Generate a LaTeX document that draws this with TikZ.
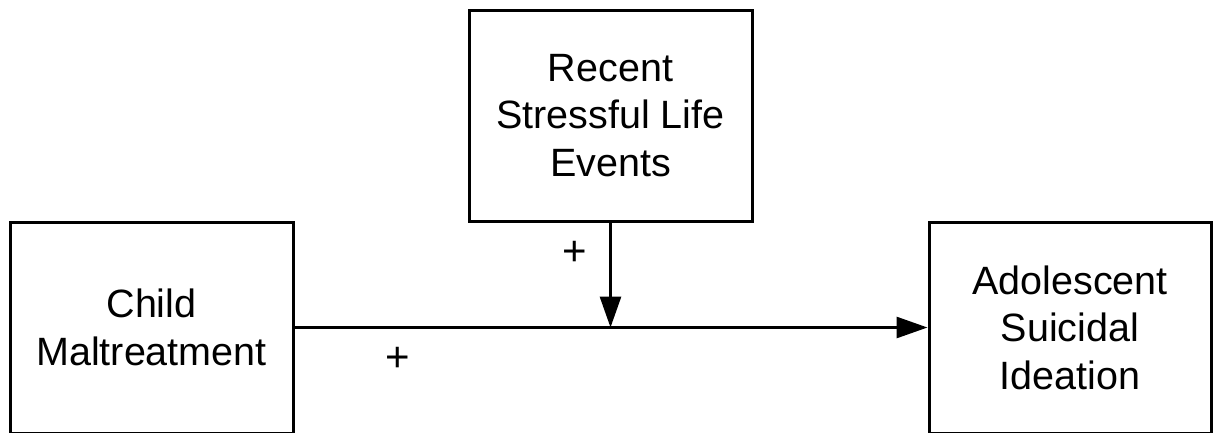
\documentclass[tikz,border=0pt]{standalone}
\usepackage{fontspec}
\setmainfont{Liberation Sans}
\usetikzlibrary{arrows.meta}
\tikzset{
  boxnode/.style={draw=black, line width=3pt, fill=white, inner sep=0pt,
    align=center, font=\fontsize{39.5}{47.5}\selectfont},
  conn/.style={line width=2.9pt, -{Triangle[length=31pt,width=21pt]}},
  plus/.style={font=\fontsize{42}{48}\selectfont, inner sep=0pt}
}
\begin{document}
\begin{tikzpicture}[x=1pt,y=-1pt]
\useasboundingbox (0,0) rectangle (1213,432);
\clip (0,0) rectangle (1213,432);
\node[boxnode, minimum width=283pt, minimum height=211pt] (cm) at (151.5,327.5) {Child\\Maltreatment};
\node[boxnode, minimum width=283pt, minimum height=211pt] (rsle) at (610.5,115.5) {Recent\\Stressful Life\\Events};
\node[boxnode, minimum width=282pt, minimum height=211pt] (asi) at (1070,327.5) {Adolescent\\Suicidal\\Ideation};
\coordinate (m) at (610.5,327.5);
\draw[conn] (cm.east) -- (asi.west);
\draw[conn] (rsle.south) -- (m);
\node[plus] (p1) at (575,253) {+};
\node[plus] (p2) at (398,359) {+};
\end{tikzpicture}
\end{document}
